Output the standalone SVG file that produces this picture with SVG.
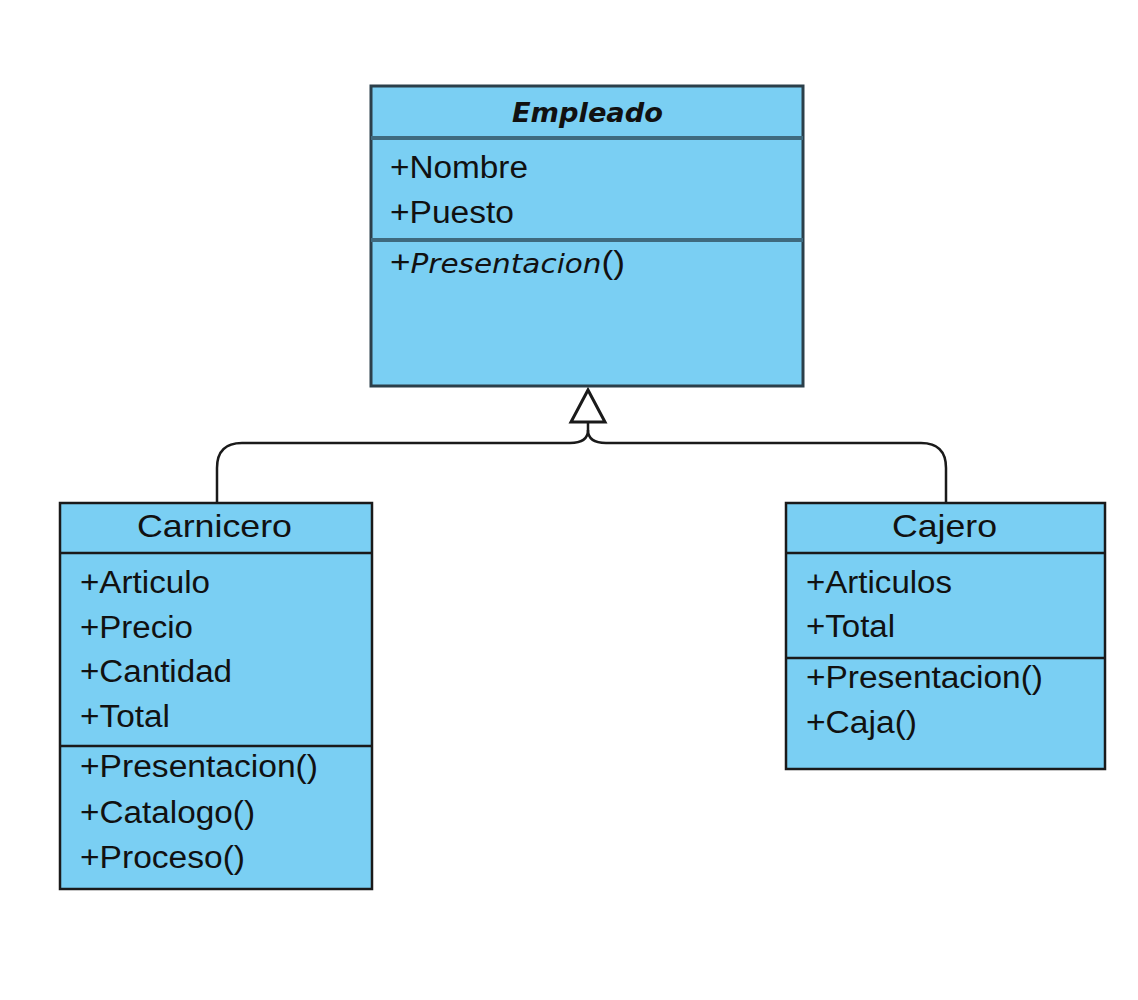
<svg xmlns="http://www.w3.org/2000/svg" width="1138" height="1000" viewBox="0 0 1138 1000">
<style>
.box{fill:#7acff3;stroke:#1a1a1a;stroke-width:2.5}
.div{stroke:#1a1a1a;stroke-width:2.5}
.ediv{stroke:#3f6a7e;stroke-width:4}
.t{font-family:"Liberation Sans",Arial,sans-serif;font-size:31px;fill:#111}
.title{font-family:"Liberation Sans",Arial,sans-serif;font-size:32px;fill:#111;text-anchor:start}
.it{font-family:"DejaVu Sans","Liberation Sans",sans-serif;font-style:italic}
.conn{fill:none;stroke:#1a1a1a;stroke-width:2.5}
</style>
<rect width="1138" height="1000" fill="#ffffff"/>
<g id="connectors">
<path class="conn" d="M217 502 V468 Q217 443 242 443 H570 Q588 443 588 430 V422"/>
<path class="conn" d="M946 502 V468 Q946 443 921 443 H606 Q588 443 588 430"/>
<polygon points="588,390 571,422 605,422" fill="#ffffff" stroke="#1a1a1a" stroke-width="3" stroke-linejoin="miter"/>
</g>
<g id="empleado">
<rect class="box" x="371" y="86" width="432" height="300" style="stroke:#2b3f4a;stroke-width:3"/>
<line class="ediv" x1="371" y1="138" x2="803" y2="138"/>
<line class="ediv" x1="371" y1="240" x2="803" y2="240"/>
<text class="it" x="512" y="122" font-size="26" font-weight="bold" fill="#111" textLength="151" lengthAdjust="spacingAndGlyphs">Empleado</text>
<text class="t" x="390" y="178" textLength="138" lengthAdjust="spacingAndGlyphs">+Nombre</text>
<text class="t" x="390" y="223" textLength="124" lengthAdjust="spacingAndGlyphs">+Puesto</text>
<text class="t" x="390" y="273" textLength="235" lengthAdjust="spacingAndGlyphs">+<tspan class="it" font-size="26">Presentacion</tspan>()</text>
</g>
<g id="carnicero">
<rect class="box" x="60" y="503" width="312" height="386"/>
<line class="div" x1="60" y1="553" x2="372" y2="553"/>
<line class="div" x1="60" y1="746" x2="372" y2="746"/>
<text class="title" x="137" y="537" textLength="155" lengthAdjust="spacingAndGlyphs">Carnicero</text>
<text class="t" x="80" y="593" textLength="130" lengthAdjust="spacingAndGlyphs">+Articulo</text>
<text class="t" x="80" y="638" textLength="113" lengthAdjust="spacingAndGlyphs">+Precio</text>
<text class="t" x="80" y="682" textLength="152" lengthAdjust="spacingAndGlyphs">+Cantidad</text>
<text class="t" x="80" y="727" textLength="90" lengthAdjust="spacingAndGlyphs">+Total</text>
<text class="t" x="80" y="777" textLength="238" lengthAdjust="spacingAndGlyphs">+Presentacion()</text>
<text class="t" x="80" y="823" textLength="175" lengthAdjust="spacingAndGlyphs">+Catalogo()</text>
<text class="t" x="80" y="868" textLength="165" lengthAdjust="spacingAndGlyphs">+Proceso()</text>
</g>
<g id="cajero">
<rect class="box" x="786" y="503" width="319" height="266"/>
<line class="div" x1="786" y1="553" x2="1105" y2="553"/>
<line class="div" x1="786" y1="658" x2="1105" y2="658"/>
<text class="title" x="892" y="537" textLength="105" lengthAdjust="spacingAndGlyphs">Cajero</text>
<text class="t" x="806" y="593" textLength="146" lengthAdjust="spacingAndGlyphs">+Articulos</text>
<text class="t" x="806" y="637" textLength="89" lengthAdjust="spacingAndGlyphs">+Total</text>
<text class="t" x="806" y="688" textLength="237" lengthAdjust="spacingAndGlyphs">+Presentacion()</text>
<text class="t" x="806" y="733" textLength="111" lengthAdjust="spacingAndGlyphs">+Caja()</text>
</g>
</svg>
